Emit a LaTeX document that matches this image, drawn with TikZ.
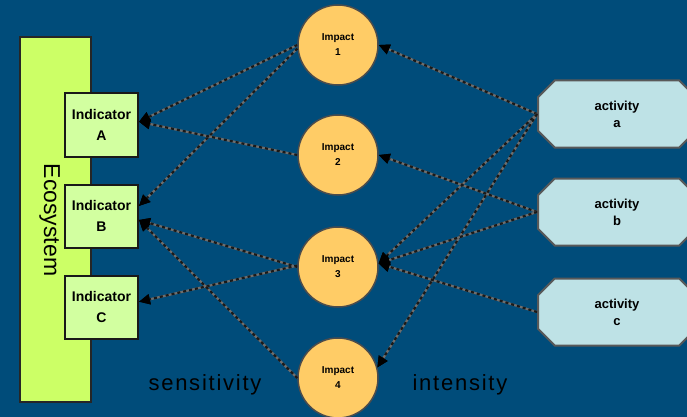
\documentclass[tikz,border=0pt]{standalone}
\usepackage{fontspec}
\setmainfont{Liberation Sans}
\newfontfamily\spacedfont[LetterSpace=8]{Liberation Sans}
\usetikzlibrary{arrows.meta,shapes.misc}
\definecolor{bgblue}{RGB}{0,76,122}
\definecolor{ecofill}{RGB}{204,255,102}
\definecolor{indfill}{RGB}{210,255,160}
\definecolor{impfill}{RGB}{255,204,102}
\definecolor{actfill}{RGB}{190,226,230}
\definecolor{linkgray}{RGB}{110,110,110}
\tikzset{
  ecobar/.style={draw=black!85, line width=2pt, fill=ecofill, minimum width=71pt, minimum height=365pt, inner sep=0pt},
  indbox/.style={draw=black!90, line width=2pt, fill=indfill, minimum width=73pt, minimum height=63pt, inner sep=0pt,
    align=center, font=\fontsize{14}{21}\selectfont\bfseries},
  impcircle/.style={circle, draw=black!70, line width=1.5pt, fill=impfill, minimum size=80pt, inner sep=0pt,
    align=center, font=\fontsize{10}{15}\selectfont\bfseries},
  actbox/.style={chamfered rectangle, chamfered rectangle xsep=17pt, draw=black!65, line width=2pt, fill=actfill,
    minimum width=158pt, minimum height=67pt, inner sep=0pt, align=center, font=\fontsize{13}{17}\selectfont\bfseries},
  biglabel/.style={font=\spacedfont\fontsize{22}{26}\selectfont, text=black, inner sep=0pt},
  link/.style={draw=linkgray, line width=2.2pt,
    -{Triangle[length=11pt,width=10pt,color=black]},
    postaction={draw=black!90, line width=2.2pt, dash pattern=on 3pt off 3pt}}
}
\begin{document}
\begin{tikzpicture}[x=1pt,y=-1pt]
  \useasboundingbox (0,0) rectangle (687,417);
  \clip (0,0) rectangle (687,417);
  \fill[bgblue] (0,0) rectangle (687,417);

  % ecosystem bar and its indicators
  \node[ecobar] (eco) at (55.5,219.5) {};
  \node[rotate=-90, anchor=base, font=\fontsize{23}{26}\selectfont, inner sep=0pt] (ecolabel) at (44,220) {Ecosystem};
  \node[indbox] (indA) at (101.5,125) {Indicator\\A};
  \node[indbox] (indB) at (101.5,216) {Indicator\\B};
  \node[indbox] (indC) at (101.5,307) {Indicator\\C};

  % impacts
  \node[impcircle] (imp1) at (338,45) {Impact\\1};
  \node[impcircle] (imp2) at (338,155) {Impact\\2};
  \node[impcircle] (imp3) at (338,267) {Impact\\3};
  \node[impcircle] (imp4) at (338,378) {Impact\\4};

  % activities
  \node[actbox] (actA) at (617,114) {activity\\a};
  \node[actbox] (actB) at (617,212) {activity\\b};
  \node[actbox] (actC) at (617,312) {activity\\c};

  % axis labels
  \node[biglabel, anchor=base] (sens) at (205,390) {sensitivity};
  \node[biglabel, anchor=base] (inten) at (460,390) {intensity};

  % activities acting on impacts
  \draw[link] (actA.west) -- (imp1.east);
  \draw[link] (actA.west) -- (imp3.5);
  \draw[link] (actA.west) -- (imp4.15);
  \draw[link] (actB.west) -- (imp2.east);
  \draw[link] (actB.west) -- (imp3.5);
  \draw[link] (actC.west) -- (imp3.5);

  % impacts reaching indicators
  \draw[link] (imp1.west) -- (indA.5);
  \draw[link] (imp1.185) -- (indB.15);
  \draw[link] (imp2.west) -- (indA.5);
  \draw[link] (imp3.west) -- (indB.-6);
  \draw[link] (imp3.178) -- (indC.8);
  \draw[link] (imp4.west) -- (indB.-6);
\end{tikzpicture}
\end{document}
